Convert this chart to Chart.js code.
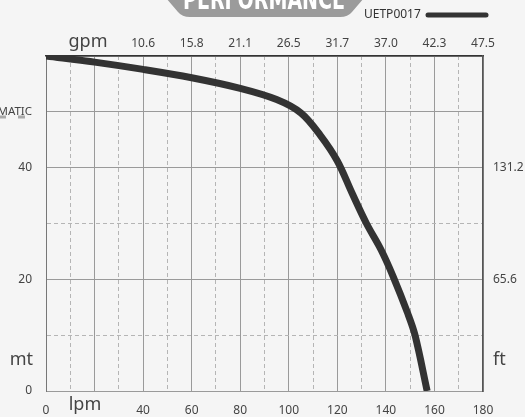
<!DOCTYPE html>
<html>
<head>
<meta charset="utf-8">
<script src="https://cdn.jsdelivr.net/npm/chart.js@4.4.1/dist/chart.umd.min.js"></script>
<style>
  html, body { margin: 0; padding: 0; background: #f5f5f5; }
  #wrap { width: 525px; height: 417px; position: relative; }
</style>
</head>
<body>
<div id="wrap"><canvas id="perfChart"></canvas></div>
<script>
// curve UETP0017: flow (lpm) vs head (mt)
const flowLpm = [0, 20, 40, 60, 80, 95, 105, 113, 120, 126, 132, 138, 143, 149, 152, 157];
const headMt  = [60, 58.9, 57.6, 56.1, 54.2, 52.2, 49.8, 45.8, 41.2, 35.5, 30, 25.3, 20.5, 13.9, 10, 0];

// tick labels
const lpmTicks  = [0, 20, 40, 60, 80, 100, 120, 140, 160, 180];
const lpmLabels = ['0', '', '40', '60', '80', '100', '120', '140', '160', '180'];
const gpmLabels = ['', '', '10.6', '15.8', '21.1', '26.5', '31.7', '37.0', '42.3', '47.5'];
const mtTicks   = [0, 20, 40, 50];
const mtLabels  = ['0', '20', '40', 'MATIC'];
const ftTicks   = [20, 40];
const ftLabels  = ['65.6', '131.2'];

const seriesName = 'UETP0017';
const FONT = '"Noto Sans", sans-serif';

function labelFor(ticks, labels, v) {
    const i = ticks.indexOf(v);
    return i >= 0 ? labels[i] : '';
}

// extra text: title tab, legend, unit names
const decorations = {
    id: 'decorations',
    afterDraw(chart) {
        const c = chart.ctx;
        c.save();

        // title tab
        c.fillStyle = '#9b9b9b';
        c.beginPath();
        c.moveTo(166, -2);
        c.lineTo(364, -2);
        c.lineTo(352, 12);
        c.quadraticCurveTo(348, 17, 340, 17);
        c.lineTo(190, 17);
        c.quadraticCurveTo(182, 17, 178, 12);
        c.closePath();
        c.fill();
        c.fillStyle = '#ffffff';
        c.font = 'bold 28px "Liberation Sans Narrow", "DejaVu Sans Condensed", sans-serif';
        c.textAlign = 'center';
        c.textBaseline = 'alphabetic';
        c.fillText('PERFORMANCE', 264, 9, 162);

        // legend
        c.fillStyle = '#333';
        c.font = '12px ' + FONT;
        c.textAlign = 'left';
        c.textBaseline = 'middle';
        c.fillText(seriesName, 364, 15);
        c.strokeStyle = '#333';
        c.lineWidth = 5;
        c.lineCap = 'round';
        c.beginPath();
        c.moveTo(428, 15);
        c.lineTo(486, 15);
        c.stroke();

        // dashes under MATIC
        c.strokeStyle = '#aaa';
        c.lineWidth = 3;
        c.lineCap = 'butt';
        c.beginPath();
        c.moveTo(0, 117); c.lineTo(6, 117);
        c.moveTo(18, 117); c.lineTo(25, 117);
        c.stroke();

        // unit names
        c.fillStyle = '#444';
        c.font = '18px ' + FONT;
        c.textAlign = 'center';
        c.fillText('gpm', 88, 42);
        c.fillText('lpm', 85, 405);
        c.textAlign = 'right';
        c.fillText('mt', 33, 360);
        c.textAlign = 'left';
        c.fillText('ft', 493, 360);
        c.restore();
    }
};

const ctx = document.getElementById('perfChart').getContext('2d');
const perfChart = new Chart(ctx, {
    type: 'line',
    data: {
        datasets: [{
            label: seriesName,
            data: flowLpm.map((x, i) => ({ x: x, y: headMt[i] })),
            borderColor: '#333333',
            borderWidth: 7,
            pointRadius: 0,
            tension: 0.35,
            fill: false
        }]
    },
    options: {
        responsive: true,
        maintainAspectRatio: false,
        animation: false,
        layout: { padding: 0 },
        plugins: {
            legend: { display: false },
            tooltip: { enabled: false }
        },
        scales: {
            x: {
                type: 'linear',
                position: 'bottom',
                min: 0,
                max: 180,
                afterFit: s => { s.height = 26; },
                ticks: {
                    stepSize: 10,
                    autoSkip: false,
                    maxRotation: 0,
                    padding: 12,
                    color: '#444',
                    font: { family: FONT, size: 12 },
                    callback: v => labelFor(lpmTicks, lpmLabels, v)
                },
                grid: {
                    drawTicks: false,
                    color: c => (c.tick && c.tick.value % 20 !== 0) ? '#b5b5b5' : '#9a9a9a',
                    lineWidth: 1
                },
                border: {
                    color: '#9a9a9a',
                    width: 1,
                    dash: c => (c.tick && c.tick.value % 20 !== 0) ? [4, 3] : []
                }
            },
            x2: {
                type: 'linear',
                position: 'top',
                min: 0,
                max: 180,
                afterFit: s => { s.height = 56; },
                ticks: {
                    stepSize: 20,
                    autoSkip: false,
                    maxRotation: 0,
                    padding: 5,
                    color: '#444',
                    font: { family: FONT, size: 12 },
                    callback: v => labelFor(lpmTicks, gpmLabels, v)
                },
                grid: { display: false, drawTicks: false },
                border: { color: '#333', width: 1.5 }
            },
            y: {
                type: 'linear',
                position: 'left',
                min: 0,
                max: 60,
                afterFit: s => { s.width = 46; },
                ticks: {
                    stepSize: 10,
                    autoSkip: false,
                    padding: 14,
                    color: '#444',
                    font: c => ({ family: FONT, size: (c.tick && c.tick.value === 50) ? 11.5 : 12 }),
                    callback: v => labelFor(mtTicks, mtLabels, v)
                },
                grid: {
                    drawTicks: false,
                    color: c => (c.tick && (c.tick.value === 10 || c.tick.value === 30)) ? '#b5b5b5' : '#9a9a9a',
                    lineWidth: 1
                },
                border: {
                    color: '#777',
                    width: 1,
                    dash: c => (c.tick && (c.tick.value === 10 || c.tick.value === 30)) ? [4, 3] : []
                }
            },
            y2: {
                type: 'linear',
                position: 'right',
                min: 0,
                max: 60,
                afterFit: s => { s.width = 42; },
                ticks: {
                    stepSize: 10,
                    autoSkip: false,
                    padding: 10,
                    color: '#444',
                    font: { family: FONT, size: 12 },
                    callback: v => labelFor(ftTicks, ftLabels, v)
                },
                grid: { display: false, drawTicks: false },
                border: { color: '#555', width: 1.5 }
            }
        }
    },
    plugins: [decorations]
});
</script>
</body>
</html>
